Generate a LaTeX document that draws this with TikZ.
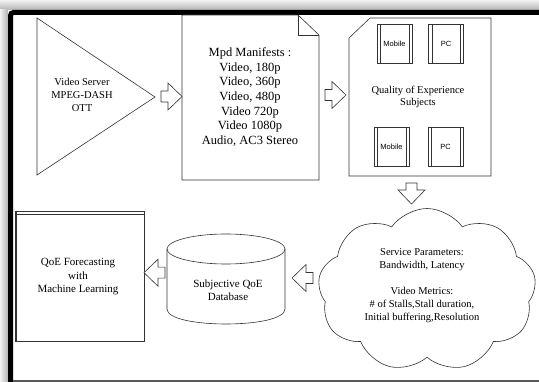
\documentclass[tikz,border=0pt]{standalone}
\usepackage{fontspec}
\setmainfont{Liberation Serif}
\newfontfamily\devfont{Liberation Sans}
\usetikzlibrary{shapes.symbols, positioning}

\tikzset{
  outline/.style={draw=black!80, line width=0.6pt},
  txt/.style={align=center, inner sep=0pt, font=\fontsize{10.5}{13}\selectfont},
  devbox/.style={outline, minimum width=35pt, minimum height=39pt, inner sep=0pt,
    font=\devfont\fontsize{7.5}{9}\selectfont},
  barrow/.pic={\draw[outline, fill=white] (0,-5.5) -- (7,-5.5) -- (7,-13.5) -- (21,0)
    -- (7,13.5) -- (7,5.5) -- (0,5.5) -- cycle;}
}

\begin{document}
\begin{tikzpicture}[x=1pt, y=-1pt]
        \useasboundingbox (0,0) rectangle (539,382);

        % Shadow and frame
        \shade[top color=gray!10, bottom color=gray!60] (0,0) rectangle (539,10);
        \shade[left color=gray!10, right color=gray!60] (0,10) rectangle (8,382);
        \draw[line width=5pt, rounded corners=3pt] (10.5,384) -- (10.5,12.5) -- (541,12.5);
        \draw[gray!70!black, line width=1.2pt] (13,381) -- (539,381);

        % Video server
        \draw[outline] (37,18) -- (155,97) -- (37,175) -- cycle;
        \node[txt] (server) at (82,94.5) {Video Server\\MPEG-DASH\\OTT};

        % Manifest document
        \draw[outline] (182,15) -- (298,15) -- (319,35) -- (319,180) -- (182,180) -- cycle;
        \draw[outline] (298,15) -- (298,35) -- (319,35);
        \node[txt, font=\fontsize{12.5}{14.6}\selectfont] (mpd) at (250,97)
          {Mpd Manifests :\\Video, 180p\\Video, 360p\\Video, 480p\\Video 720p\\Video 1080p\\Audio, AC3 Stereo};

        % Subjects
        \draw[outline] (349,38) -- (370,18) -- (491,18) -- (491,176) -- (349,176) -- cycle;
        \node[txt, font=\fontsize{10.5}{12.5}\selectfont] (qoe) at (418,97) {Quality of Experience\\Subjects};
        \node[devbox] (mob1) at (394.5,43.5) {Mobile};
        \node[devbox, right=16pt of mob1] (pc1) {PC};
        \node[devbox] (mob2) at (391.5,147) {Mobile};
        \node[devbox] (pc2) at (445.5,147) {PC};
        \foreach \b in {mob1,pc1,mob2,pc2} {
          \draw[outline] ([xshift=3.5pt]\b.north west) -- ([xshift=3.5pt]\b.south west);
          \draw[outline] ([xshift=-3.5pt]\b.north east) -- ([xshift=-3.5pt]\b.south east);
        }

        % Parameters cloud
        \node[cloud, cloud puffs=9, cloud puff arc=110, cloud ignores aspect, outline,
          minimum width=218pt, minimum height=163pt] (cloud) at (427,290) {};
        \node[txt] (params) at (422,286)
          {Service Parameters:\\Bandwidth, Latency\\[13pt]Video Metrics:\\\# of Stalls,Stall duration,\\Initial buffering,Resolution};

        % Database
        \draw[outline, fill=white] (226,249) ellipse (59 and 15);
        \draw[outline] (167,249) -- (167,309) .. controls (167,329) and (285,329) .. (285,309) -- (285,249);
        \node[txt, font=\fontsize{11}{13}\selectfont] (db) at (228,290.5) {Subjective QoE\\Database};

        % Forecasting
        \node[outline, minimum width=129pt, minimum height=130pt] (forecast) at (79.5,276) {};
        \draw[outline] ([yshift=-3.5pt]forecast.north west) -- ([yshift=-3.5pt]forecast.north east);
        \draw[outline] ([xshift=2pt]forecast.north west) -- ([xshift=2pt]forecast.south west);
        \node[txt, font=\fontsize{11}{13.5}\selectfont] (fclabel) at (78,277)
          {QoE Forecasting\\with\\Machine Learning};

        % Block arrows
        \pic at (161,96.5) {barrow};
        \pic at (325,95) {barrow};
        \pic[rotate=-90] at (411.5,183) {barrow};
        \pic[rotate=180] at (313,278) {barrow};
        \pic[rotate=180] at (165,272.7) {barrow};

    \end{tikzpicture}
\end{document}
